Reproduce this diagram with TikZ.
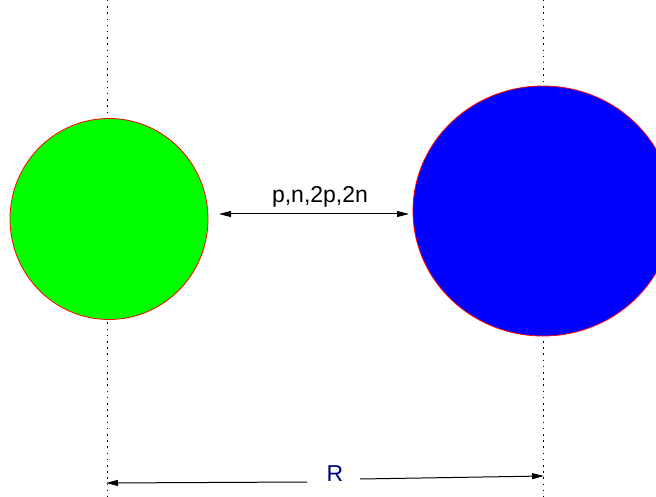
\documentclass[tikz,border=0pt]{standalone}
\usepackage{fontspec}
\setmainfont{Liberation Sans}
\usetikzlibrary{arrows.meta,shapes.geometric}
\definecolor{rnavy}{RGB}{0,0,128}

\begin{document}
\begin{tikzpicture}[x=1pt,y=-1pt,line width=1pt,
  nucleus/.style={ellipse,draw=red,line width=0.8pt,inner sep=0pt},
  guide/.style={line width=0.9pt,dash pattern=on 1.5pt off 4.7pt},
  dimarrow/.style={line width=1pt,-{Triangle[length=12pt,width=6pt]}}]
  \useasboundingbox (0,0) rectangle (656,497);
  % vertical guides through the centres
  \draw[guide] (107,0) -- (107,497);
  \draw[guide] (543,0) -- (543,497);
  % the two nuclei
  \node[nucleus,fill=green,minimum width=198pt,minimum height=201pt] (light) at (109,219) {};
  \node[nucleus,fill=blue,minimum width=260pt,minimum height=250pt] (heavy) at (543,211) {};
  % transfer arrow
  \coordinate (tleft) at (219,214);
  \coordinate (tright) at (409,214);
  \draw[line width=1pt,{Triangle[length=12pt,width=6pt]}-{Triangle[length=12pt,width=6pt]}] (tleft) -- (tright);
  \node[font=\fontsize{23}{26}\selectfont] (transfer) at (320,197) {p,n,2p,2n};
  % distance R
  \node[font=\fontsize{23}{26}\selectfont,text=rnavy] (dist) at (335,474) {R};
  \coordinate (rleft) at (106,483);
  \coordinate (rright) at (544,476);
  \draw[dimarrow] (307,482) -- (rleft);
  \draw[dimarrow] (360,479) -- (rright);
\end{tikzpicture}
\end{document}
